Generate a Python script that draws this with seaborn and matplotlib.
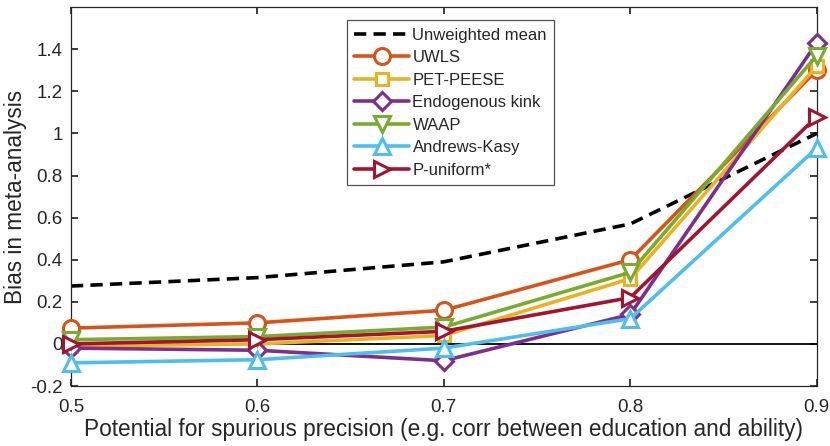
import matplotlib
matplotlib.use("Agg")
import matplotlib.pyplot as plt
import seaborn as sns
import pandas as pd

# Potential for spurious precision (x) and bias of each estimator
x_vals = [0.5, 0.6, 0.7, 0.8, 0.9]
unweighted_mean = [0.275, 0.315, 0.39, 0.57, 1.0]
uwls = [0.075, 0.10, 0.16, 0.40, 1.30]
pet_peese = [-0.01, 0.0, 0.04, 0.31, 1.32]
endogenous_kink = [-0.02, -0.03, -0.08, 0.14, 1.43]
waap = [0.02, 0.035, 0.08, 0.34, 1.37]
andrews_kasy = [-0.09, -0.075, -0.02, 0.12, 0.93]
p_uniform = [0.0, 0.02, 0.06, 0.22, 1.08]

y_ticks = [-0.2, 0, 0.2, 0.4, 0.6, 0.8, 1, 1.2, 1.4]
y_tick_labels = ["-0.2", "0", "0.2", "0.4", "0.6", "0.8", "1", "1.2", "1.4"]
x_ticks = [0.5, 0.6, 0.7, 0.8, 0.9]

sns.set_theme(style="white")
plt.rcParams["font.family"] = ["Liberation Sans", "DejaVu Sans"]

fig = plt.figure(figsize=(8.3, 4.46), dpi=100)
ax = fig.add_axes([0.0855, 0.1345, 0.8985, 0.8495])

# zero reference line
ax.axhline(0, color="black", lw=1.3, zorder=1)

sns.lineplot(x=x_vals, y=unweighted_mean, ax=ax, color="black", lw=2.6,
             linestyle=(0, (3.4, 2.0)), label="Unweighted mean", zorder=2)

series = [
    ("UWLS", uwls, "#D95319", "o"),
    ("PET-PEESE", pet_peese, "#EDB120", "s"),
    ("Endogenous kink", endogenous_kink, "#7E2F8E", "D"),
    ("WAAP", waap, "#77AC30", "v"),
    ("Andrews-Kasy", andrews_kasy, "#4DBEEE", "^"),
    ("P-uniform*", p_uniform, "#A2142F", ">"),
]
for name, vals, col, mk in series:
    df = pd.DataFrame({"x": x_vals, "y": vals})
    ms = 9 if mk in ("s", "D") else 11.5
    sns.lineplot(data=df, x="x", y="y", ax=ax, color=col, lw=2.6,
                 marker=mk, markersize=ms, markerfacecolor="white",
                 markeredgecolor=col, markeredgewidth=2.2, label=name,
                 zorder=3, clip_on=False)

ax.set_xlim(0.5, 0.9)
ax.set_ylim(-0.2, 1.6)
ax.set_xticks(x_ticks)
ax.set_xticklabels([f"{v:g}" for v in x_ticks])
ax.set_yticks(y_ticks)
ax.set_yticklabels(y_tick_labels)
ax.tick_params(axis="both", labelsize=13.5, direction="in", length=5,
               color="#262626", left=True, bottom=True, right=True, top=True,
               labelcolor="#262626")
ax.tick_params(axis="x", pad=9)
ax.tick_params(axis="y", pad=6)
for sp in ax.spines.values():
    sp.set_color("#262626")
    sp.set_linewidth(0.9)

ax.set_xlabel("Potential for spurious precision (e.g. corr between education and ability)",
              fontsize=16.3, color="#262626", labelpad=2)
ax.set_ylabel("Bias in meta-analysis", fontsize=16.3, color="#262626", labelpad=2)

leg = ax.legend(loc="upper center", bbox_to_anchor=(0.509, 0.966), fontsize=12,
                frameon=True, fancybox=False, edgecolor="#262626",
                handlelength=3.3, handletextpad=0.2, borderpad=0.45,
                labelspacing=0.45, borderaxespad=0)
leg.get_frame().set_linewidth(0.9)
leg.set_zorder(5)

fig.savefig("out.png", dpi=100)
